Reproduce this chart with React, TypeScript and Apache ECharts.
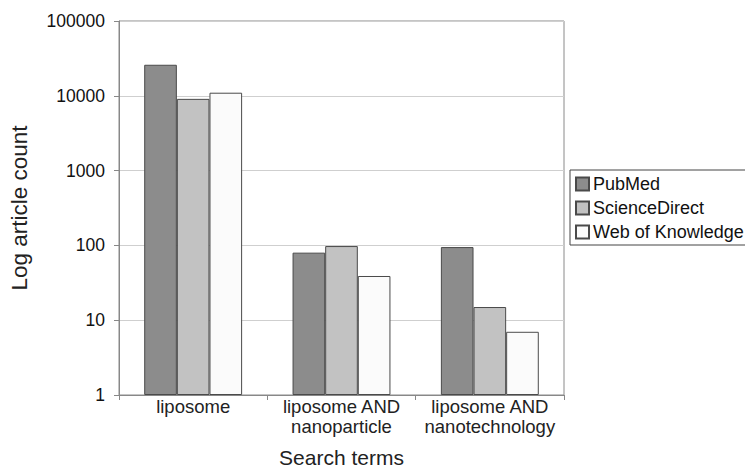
import React, { useEffect, useRef } from "react";
import * as echarts from "echarts";

const categories = ["liposome", "liposome AND\nnanoparticle", "liposome AND\nnanotechnology"];
const pubmed = [26000, 80, 95];
const scienceDirect = [9100, 98, 15];
const webOfKnowledge = [11000, 39, 7];
const seriesNames = ["PubMed", "ScienceDirect", "Web of Knowledge"];
const seriesColors = ["#8c8c8c", "#c2c2c2", "#fbfbfb"];

const FONT = "'Liberation Sans', Arial, sans-serif";

export default function App() {
  const ref = useRef<HTMLDivElement>(null);
  useEffect(() => {
    if (!ref.current) return;
    const chart = echarts.init(ref.current, null, { renderer: "svg" });
    const data = [pubmed, scienceDirect, webOfKnowledge];
    chart.setOption({
      animation: false,
      backgroundColor: "#ffffff",
      textStyle: { fontFamily: FONT },
      grid: {
        left: 118,
        right: 181,
        top: 21,
        bottom: 78,
        show: true,
        borderColor: "#8a8a8a",
        borderWidth: 1,
      },
      legend: {
        orient: "vertical",
        left: 570,
        top: 170,
        width: 200,
        icon: "rect",
        itemWidth: 13,
        itemHeight: 13,
        itemGap: 6,
        padding: [5, 20, 4, 5],
        borderColor: "#444",
        borderWidth: 1,
        textStyle: { fontFamily: FONT, fontSize: 18, color: "#111", padding: [0, 0, 0, -1] },
        data: seriesNames,
      },
      xAxis: {
        type: "category",
        data: categories,
        name: "Search terms",
        nameLocation: "middle",
        nameGap: 52,
        nameTextStyle: { fontFamily: FONT, fontSize: 21, color: "#222" },
        axisLine: { lineStyle: { color: "#888" } },
        axisTick: { show: true, length: 5, lineStyle: { color: "#888" } },
        axisLabel: { interval: 0, fontFamily: FONT, fontSize: 18.5, color: "#222", margin: 1, lineHeight: 20 },
      },
      yAxis: {
        type: "log",
        logBase: 10,
        min: 1,
        max: 100000,
        name: "Log article count",
        nameLocation: "middle",
        nameGap: 88,
        nameTextStyle: { fontFamily: FONT, fontSize: 22.5, color: "#222" },
        axisLine: { show: true, lineStyle: { color: "#888" } },
        axisTick: { show: true, length: 5, lineStyle: { color: "#888" } },
        axisLabel: {
          fontFamily: FONT,
          fontSize: 17.5,
          color: "#111",
          margin: 14,
          formatter: (v: number) => String(Math.round(v)),
        },
        splitLine: { show: true, lineStyle: { color: "#cfcfcf" } },
        minorTick: { show: false },
      },
      series: seriesNames.map((name, i) => ({
        name,
        type: "bar",
        data: data[i],
        barGap: "0%",
        barCategoryGap: "34%",
        itemStyle: { color: seriesColors[i], borderColor: "#4a4a4a", borderWidth: 1 },
      })),
    });
    return () => chart.dispose();
  }, []);
  return <div ref={ref} style={{ width: 745, height: 473, position: "absolute", left: 0, top: 0 }} />;
}
